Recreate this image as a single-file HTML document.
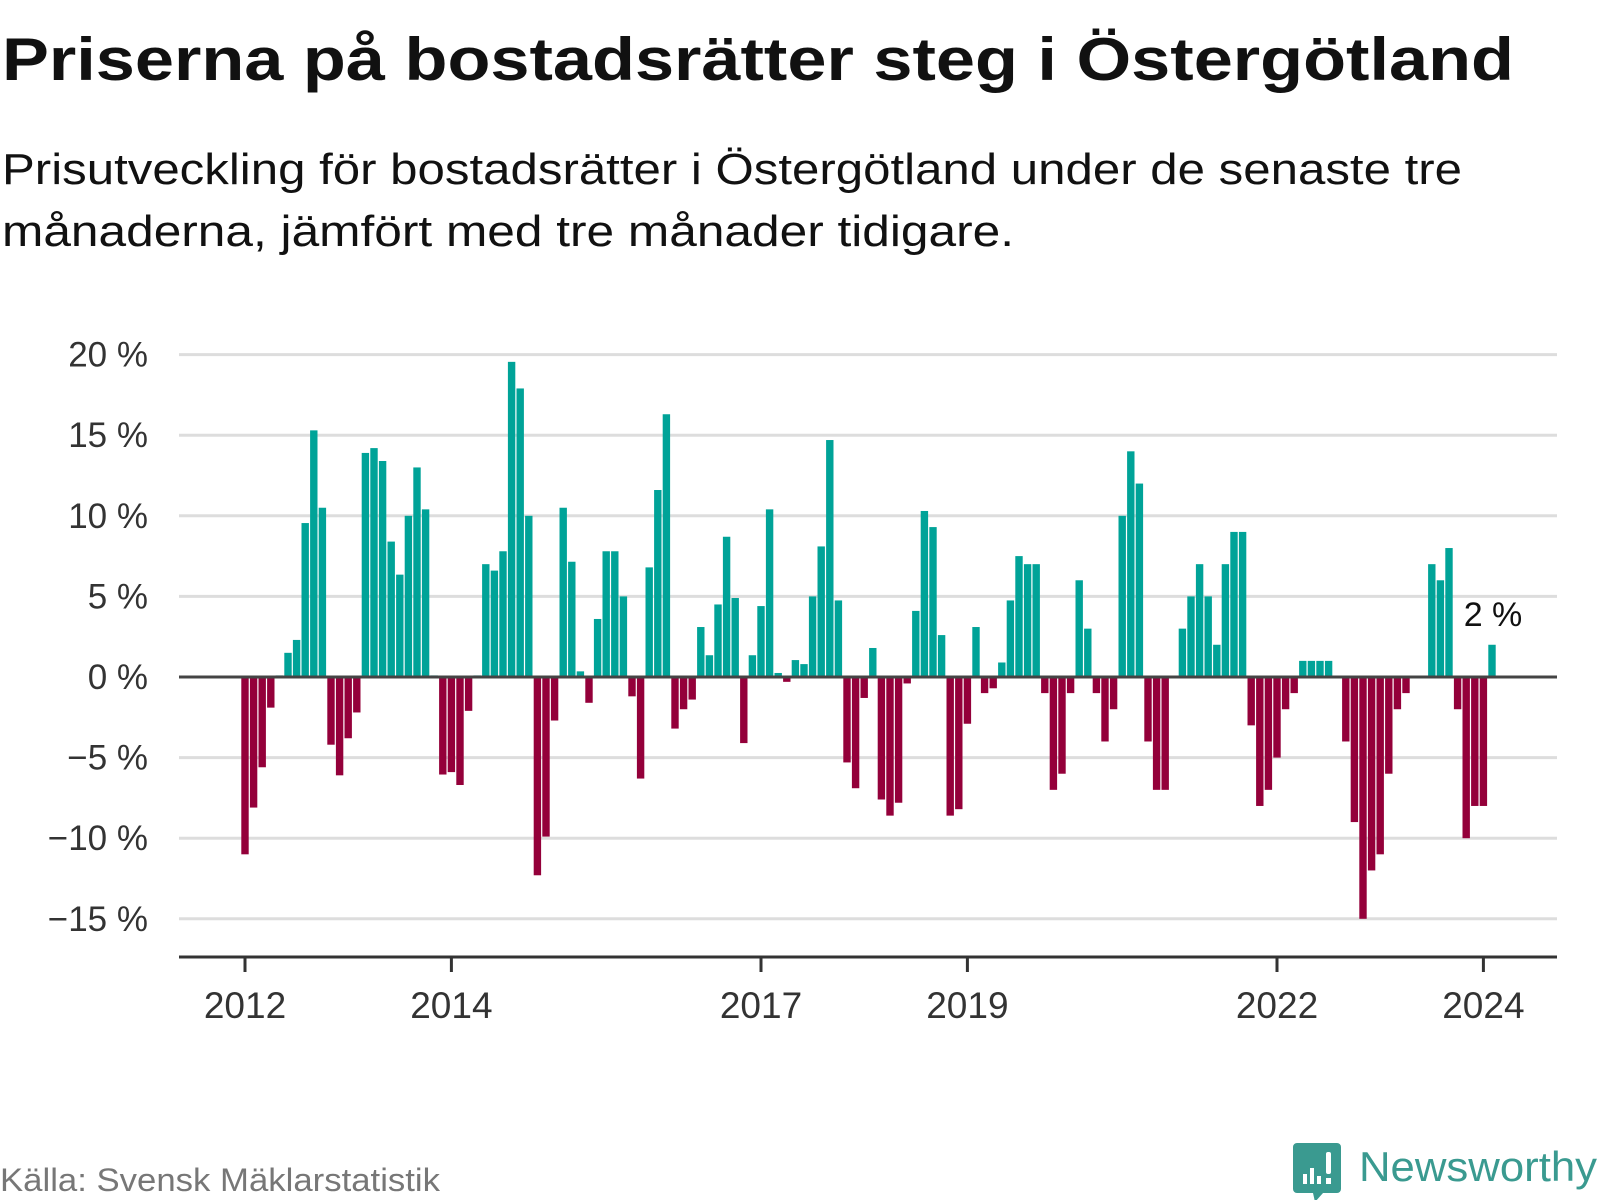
<!DOCTYPE html>
<html><head><meta charset="utf-8"><style>
html,body{margin:0;padding:0;background:#fff;width:1600px;height:1200px;overflow:hidden}
svg text{font-family:"Liberation Sans",sans-serif}
</style></head><body>
<svg id="chart" width="1600" height="1200" viewBox="0 0 1600 1200" xmlns="http://www.w3.org/2000/svg">
<text x="2" y="80" font-size="60" font-weight="bold" fill="#111" textLength="1512" lengthAdjust="spacingAndGlyphs">Priserna på bostadsrätter steg i Östergötland</text>
<text x="2" y="184" font-size="44" fill="#111" textLength="1460" lengthAdjust="spacingAndGlyphs">Prisutveckling för bostadsrätter i Östergötland under de senaste tre</text>
<text x="2" y="246" font-size="44" fill="#111" textLength="1012" lengthAdjust="spacingAndGlyphs">månaderna, jämfört med tre månader tidigare.</text>
<g id="grid"></g>
<g id="ylabels"></g>
<g id="bars"></g>
<line x1="179" x2="1557" y1="677" y2="677" stroke="#444" stroke-width="3"/>
<line x1="179" x2="1557" y1="957" y2="957" stroke="#333" stroke-width="3"/>
<g id="xticks"></g>
<text id="lastlabel" x="1492" y="626" font-size="34" fill="#111" text-anchor="middle">2 %</text>
<text x="0" y="1191" font-size="32" fill="#777" textLength="440" lengthAdjust="spacingAndGlyphs">Källa: Svensk Mäklarstatistik</text>
<g>
<path d="M1297 1143 h40 a4 4 0 0 1 4 4 v42 a4 4 0 0 1 -4 4 h-14 l-8 9 l-2 -9 h-16 a4 4 0 0 1 -4 -4 v-42 a4 4 0 0 1 4 -4z" fill="#3a9a90"/>
<rect x="1303" y="1174" width="4" height="10" fill="#fff"/>
<rect x="1310" y="1168" width="4" height="16" fill="#fff"/>
<rect x="1317" y="1176" width="4" height="8" fill="#fff"/>
<rect x="1326" y="1152" width="5" height="22" rx="2" fill="#fff"/>
<rect x="1326" y="1178" width="5" height="6" fill="#fff"/>
<text x="1359" y="1181" font-size="42" fill="#3a9a90" textLength="238" lengthAdjust="spacingAndGlyphs">Newsworthy</text>
</g>
</svg>
<script>
const values = [-11.0,-8.1,-5.6,-1.9,0.1,1.5,2.3,9.55,15.3,10.5,-4.2,-6.1,-3.8,-2.2,13.9,14.2,13.4,8.4,6.35,10.0,13.0,10.4,0.1,-6.05,-5.9,-6.7,-2.1,0.1,7.0,6.6,7.8,19.55,17.9,10.0,-12.3,-9.9,-2.7,10.5,7.15,0.35,-1.6,3.6,7.8,7.8,5.0,-1.2,-6.3,6.8,11.6,16.3,-3.2,-2.0,-1.4,3.1,1.35,4.5,8.7,4.9,-4.1,1.35,4.4,10.4,0.25,-0.3,1.05,0.8,5.0,8.1,14.7,4.75,-5.3,-6.9,-1.3,1.8,-7.6,-8.6,-7.8,-0.4,4.1,10.3,9.3,2.6,-8.6,-8.2,-2.9,3.1,-1.0,-0.7,0.9,4.75,7.5,7.0,7.0,-1.0,-7.0,-6.0,-1.0,6.0,3.0,-1.0,-4.0,-2.0,10.0,14.0,12.0,-4.0,-7.0,-7.0,0,3.0,5.0,7.0,5.0,2.0,7.0,9.0,9.0,-3.0,-8.0,-7.0,-5.0,-2.0,-1.0,1.0,1.0,1.0,1.0,0,-4.0,-9.0,-15.0,-12.0,-11.0,-6.0,-2.0,-1.0,0,0,7.0,6.0,8.0,-2.0,-10.0,-8.0,-8.0,2.0];
const startYear = 2012;
const yTicks = [20,15,10,5,0,-5,-10,-15];
const xTickYears = [2012,2014,2017,2019,2022,2024];

const NS = "http://www.w3.org/2000/svg";
const zeroY = 677, pxPer = 16.12;
const x0 = 245, step = 8.6, barW = 7.4;
function yScale(v){ return zeroY - v*pxPer; }
function xScale(i){ return x0 + i*step; }
function mk(tag, attrs){ const e=document.createElementNS(NS,tag); for(const k in attrs) e.setAttribute(k, attrs[k]); return e; }

const grid=document.getElementById('grid'), yl=document.getElementById('ylabels');
yTicks.forEach(t=>{
  if(t!==0){
    const l=mk('line',{x1:179,x2:1557,y1:yScale(t),y2:yScale(t),stroke:'#dddddd','stroke-width':3});
    
    
    grid.appendChild(l);
  }
  const tx=mk('text',{x:148,y:yScale(t)+12,'font-size':35,fill:'#333','text-anchor':'end'});
  
  
  tx.textContent=(t<0?'\u2212'+Math.abs(t):t)+' %';
  yl.appendChild(tx);
});

const bars=document.getElementById('bars');
values.forEach((v,i)=>{
  if(v===0) return;
  const y=Math.min(yScale(v),zeroY), h=Math.abs(yScale(v)-zeroY);
  const r=mk('rect',{x:xScale(i)-barW/2,y:y,width:barW,height:h,fill:v>0?'#00a398':'#94003a'});
  
  
  bars.appendChild(r);
});

const xt=document.getElementById('xticks');
xTickYears.forEach(yr=>{
  const x=xScale((yr-startYear)*12);
  const l=mk('line',{x1:x,x2:x,y1:957,y2:972,stroke:'#333','stroke-width':3});
  
  
  xt.appendChild(l);
  const t=mk('text',{x:x,y:1018,'font-size':37,fill:'#333','text-anchor':'middle'});
  
  
  t.textContent=yr;
  xt.appendChild(t);
});
const last=values.length-1;
const lbl=document.getElementById('lastlabel');
lbl.setAttribute('x', xScale(last)+1);
lbl.textContent=values[last]+' %';
</script>
</body></html>
